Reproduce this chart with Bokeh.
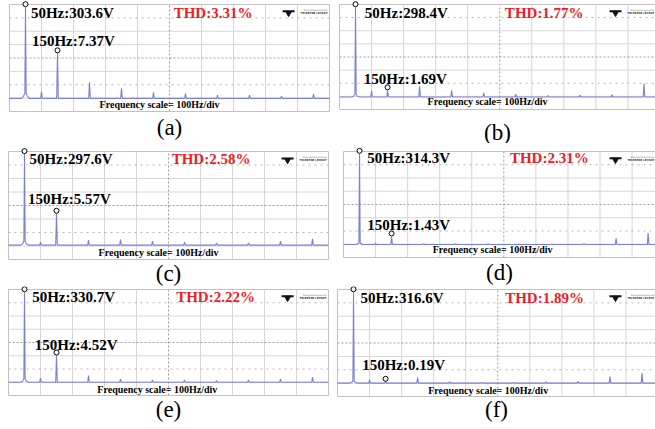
import math

from bokeh.core.properties import value
from bokeh.embed import file_html
from bokeh.layouts import column, row
from bokeh.plotting import figure
from bokeh.resources import INLINE

# ---- measured spectra (volts) ----------------------------------------------
panel_tags = ["(a)", "(b)", "(c)", "(d)", "(e)", "(f)"]
fund_hz = 50
third_hz = 150
fund_v = [303.6, 298.4, 297.6, 314.3, 330.7, 316.6]
third_v = [7.37, 1.69, 5.57, 1.43, 4.52, 0.19]
thd_pct = [3.31, 1.77, 2.58, 2.31, 2.22, 1.89]

# remaining visible spectral lines
other_hz = [100, 250, 350, 450, 550, 650, 750, 850, 950]
harm_a = [0.335, 0.71, 0.44, 0.32, 0.29, 0.255, 0.255, 0.23, 0.28]
harm_b = [1.62, 2.17, 1.68, 1.43, 1.32, 1.22, 1.25, 1.29, 2.57]
harm_c = [0.84, 0.96, 1.00, 0.90, 0.84, 0.80, 0.80, 0.90, 1.04]
harm_d = [0.93, 0.90, 0.90, 0.88, 0.87, 0.87, 0.90, 1.26, 1.79]
harm_e = [0.97, 1.17, 0.93, 0.87, 0.87, 0.83, 0.87, 0.93, 1.04]
harm_f = [0.224, 0.27, 0.19, 0.18, 0.18, 0.19, 0.20, 0.295, 0.39]
harmonics = [harm_a, harm_b, harm_c, harm_d, harm_e, harm_f]

# noise floor and leakage around the fundamental (near, far)
floor_v = [0.195, 1.11, 0.685, 0.85, 0.74, 0.17]
skirt_v = [[0.30, 0.23], [1.30, 1.16], [0.89, 0.75], [0.95, 0.88], [0.93, 0.80], [0.20, 0.18]]

# ---- per-screen layout: canvas width, screen margins (px), span (Hz), dBV window
screens = [
    dict(w=330, left=9, right=1, top=4, bottom=32, x_end=1000, y=(-23.4, 51.55),
         f50=(67, 0.078), f150=(70, 0.344), thd=(513, 0.078), fs=(469, 0.937), cap=15.5),
    dict(w=325, left=9, right=0, top=4, bottom=34, x_end=986, y=(-5.85, 50.96),
         f50=(79, 0.079), f150=(76, 0.706), thd=(516, 0.079), fs=(462, 0.928), cap=22.5),
    dict(w=330, left=8, right=2, top=8, bottom=27, x_end=1000, y=(-11.6, 50.98),
         f50=(66, 0.071), f150=(61, 0.437), thd=(510, 0.071), fs=(469, 0.932), cap=14),
    dict(w=325, left=13, right=0, top=8, bottom=29, x_end=973, y=(-8.82, 51.26),
         f50=(74, 0.063), f150=(74, 0.694), thd=(519, 0.063), fs=(465, 0.921), cap=15),
    dict(w=330, left=8, right=2, top=3, bottom=34, x_end=1000, y=(-10.45, 51.98),
         f50=(74, 0.072), f150=(82, 0.520), thd=(524, 0.072), fs=(465, 0.943), cap=14),
    dict(w=325, left=7, right=0, top=3, bottom=33, x_end=992, y=(-25.0, 51.96),
         f50=(72, 0.081), f150=(77, 0.703), thd=(523, 0.081), fs=(470, 0.940), cap=13),
]
ROW_H = 143
SERIF = "Liberation Serif"
TRACE = "#7a80d4"
GRID = "#d6d6d6"
GRID_DARK = "#9a9a9a"
BORDER = "#c2c2c2"


def dbv(v):
    return 20.0 * math.log10(v)


def spectrum_xy(floor, skirt, fund, third, harm, x_end):
    near, far = skirt
    pts = [(0.0, floor),
           (fund_hz - 12, floor), (fund_hz - 6, far), (fund_hz - 2, near),
           (fund_hz, fund),
           (fund_hz + 2, near), (fund_hz + 6, far), (fund_hz + 12, floor)]
    lines = sorted([(third_hz, third)] + list(zip(other_hz, harm)))
    for f, v in lines:
        pts += [(f - 2.5, floor), (f, v), (f + 2.5, floor)]
    pts.append((x_end, floor))
    return [p[0] for p in pts], [dbv(p[1]) for p in pts]


def screen(i):
    s = screens[i]
    y0, y1 = s["y"]
    x_end = s["x_end"]
    frame_w = s["w"] - s["left"] - s["right"]
    frame_h = ROW_H - s["top"] - s["bottom"]
    hz_px = x_end / frame_w
    db_px = (y1 - y0) / frame_h
    div_db = (y1 - y0) / 8.0

    # the canvas spans the screen plus its white margin and caption strip
    p = figure(width=s["w"], height=ROW_H,
               x_range=(-s["left"] * hz_px, (s["w"] - s["left"]) * hz_px),
               y_range=(y0 - s["bottom"] * db_px, y1 + s["top"] * db_px),
               output_backend="svg", toolbar_location=None,
               x_axis_location=None, y_axis_location=None,
               min_border=0, min_border_left=0, min_border_right=0,
               min_border_top=0, min_border_bottom=0)
    p.grid.visible = False
    p.outline_line_color = None
    p.background_fill_color = "white"
    p.border_fill_color = "white"

    # graticule: 100 Hz per division across, 8 divisions down
    vx = [f for f in range(100, 1000, 100) if f != 500 and f < x_end]
    p.segment(vx, [y0] * len(vx), vx, [y1] * len(vx), line_color=GRID, line_width=1)
    solid_rows = [y0 + k * div_db for k in (1, 3, 5, 6)]
    p.segment([0] * 4, solid_rows, [x_end] * 4, solid_rows, line_color=GRID, line_width=1)
    dot_rows = [y0 + k * div_db for k in (2, 7)]
    p.segment([0] * 2, dot_rows, [x_end] * 2, dot_rows, line_color="#b4b4b4",
              line_width=1, line_dash="2 4")
    p.segment([0, 500], [y0 + 4 * div_db, y0], [x_end, 500], [y0 + 4 * div_db, y1],
              line_color=GRID_DARK, line_width=1, line_dash="2 2")
    bx0, by0, bx1, by1 = [0, 0, 0], [y0, y0, y1], [0, x_end, x_end], [y1, y0, y1]
    if x_end >= 1000:
        bx0.append(x_end); by0.append(y0); bx1.append(x_end); by1.append(y1)
    p.segment(bx0, by0, bx1, by1, line_color=BORDER, line_width=1)

    xs, ys = spectrum_xy(floor_v[i], skirt_v[i], fund_v[i], third_v[i], harmonics[i], x_end)
    p.line(xs, ys, line_color=TRACE, line_width=1.1)

    # cursor markers riding just above the two measured lines
    lift = 3.0 * db_px
    p.scatter([fund_hz, third_hz], [dbv(fund_v[i]) + lift, dbv(third_v[i]) + lift],
              marker="circle", size=5, fill_color="white", line_color="black", line_width=1)

    def fy(frac):
        return y1 - frac * (y1 - y0)

    p.text([s["f50"][0], s["f150"][0]], [fy(s["f50"][1]), fy(s["f150"][1])],
           text=[f"50Hz:{fund_v[i]:.1f}V", f"150Hz:{third_v[i]:.2f}V"],
           text_font=value(SERIF), text_font_style="bold", text_font_size="15px",
           text_color="black", text_baseline="middle", text_align="left")
    p.text([s["thd"][0]], [fy(s["thd"][1])], text=[f"THD:{thd_pct[i]:.2f}%"],
           text_font=value(SERIF), text_font_style="bold", text_font_size="15px",
           text_color="#ee1c25", text_baseline="middle", text_align="left")
    p.text([s["fs"][0]], [fy(s["fs"][1])], text=["Frequency scale= 100Hz/div"],
           text_font=value(SERIF), text_font_style="bold", text_font_size="10px",
           text_color="black", text_baseline="middle", text_align="center")

    # instrument badge in the upper right corner
    ly = fy(0.075)
    logo_r = min(994.0, x_end - 1.0 * hz_px)
    bird_x = logo_r - 39 * hz_px
    p.scatter([bird_x], [ly - 0.6 * db_px], marker="inverted_triangle", size=6,
              fill_color="#111111", line_color="#111111")
    p.scatter([bird_x], [ly + 1.2 * db_px], marker="dash", size=12,
              line_color="#111111", line_width=2)
    p.text([logo_r], [ly - 1.4 * db_px], text=["TELEDYNE LECROY"],
           text_font=value("DejaVu Sans"), text_font_style="bold", text_font_size="2.6px",
           text_color="#333333", text_baseline="middle", text_align="right")
    p.text([logo_r], [ly + 1.8 * db_px], text=["Everywhereyoulook"],
           text_font=value("DejaVu Sans"), text_font_size="2.4px",
           text_color="#777777", text_baseline="middle", text_align="right")

    p.text([x_end / 2.0], [y0 - s["cap"] * db_px], text=[panel_tags[i]],
           text_font=value(SERIF), text_font_size="23px", text_color="black",
           text_align="center", text_baseline="middle")
    return p


figs = [screen(i) for i in range(6)]
layout = column(row(figs[0], figs[1]), row(figs[2], figs[3]), row(figs[4], figs[5]))

open("out.html", "w").write(file_html(layout, INLINE))
